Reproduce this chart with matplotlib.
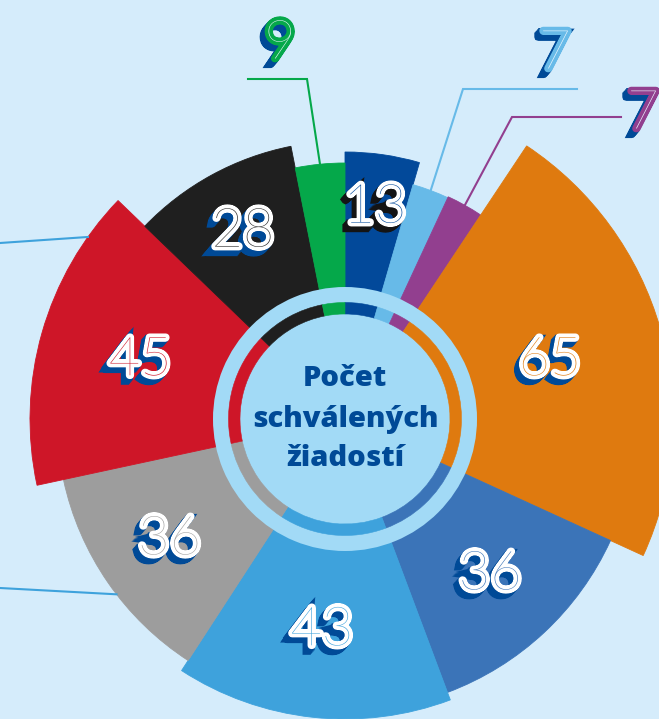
import numpy as np
import matplotlib.pyplot as plt
import matplotlib.patheffects as pe

# data
values = [13, 7, 7, 65, 36, 43, 36, 45, 28, 9]
labels = [str(v) for v in values]
outside = [False, True, True, False, False, False, False, False, False, True]
center_title = "Počet\nschválených\nžiadostí"

# styling
colors = ['#02499A', '#67BAE8', '#923F8F', '#DF7A0F', '#3B74B8',
          '#3EA2DC', '#9D9D9D', '#CE1628', '#1F1F1F', '#05A84A']
outer_r = [267, 244, 245, 328, 292, 300, 288, 315, 278, 256]
shadow_c = ['#141414'] + ['#004A97'] * 9
bg = '#D5ECFB'
ring = '#A2DAF6'
navy = '#004A97'

W, H = 659, 719
cx, cy = 345, 419          # pixel centre of the rose (from top)
R = 340

fig = plt.figure(figsize=(W / 100, H / 100), dpi=100)
fig.patch.set_facecolor(bg)

ax = fig.add_axes([(cx - R) / W, (H - cy - R) / H, 2 * R / W, 2 * R / H],
                  projection='polar')
ax.set_theta_zero_location('N')
ax.set_theta_direction(-1)
ax.set_ylim(0, R)
ax.axis('off')
ax.patch.set_alpha(0)

total = sum(values)
widths = np.array(values) / total * 2 * np.pi
starts = np.cumsum(widths) - widths
mids = starts + widths / 2

ax.bar(starts, outer_r, width=widths, bottom=0, align='edge',
       color=colors, edgecolor=colors, linewidth=0.6)
ax.bar(0, 132, width=2 * np.pi, bottom=0, align='edge', color=ring, linewidth=0)
ax.bar(starts, 11.5, width=widths, bottom=105, align='edge',
       color=colors, edgecolor=colors, linewidth=0.4)

ax.text(0, 0, center_title, ha='center', va='center', color=navy,
        fontsize=21, fontweight='heavy', family='Open Sans', linespacing=1.5)


def num_fx(band, sh):
    fx = [pe.PathPatchEffect(offset=(-d, -1.15 * d), facecolor=sh, edgecolor=sh, linewidth=5.5)
          for d in (0.8, 1.6, 2.4, 3.0, 3.6)]
    fx += [pe.Stroke(linewidth=5.5, foreground=band), pe.Normal()]
    return fx


for i, v in enumerate(values):
    if outside[i]:
        continue
    ax.text(mids[i], 213, labels[i], ha='center', va='center', color=colors[i],
            fontsize=39, fontweight=100, family='Lato',
            path_effects=num_fx('white', shadow_c[i]))

# overlay in pixel coordinates for leader lines and outside labels
ov = fig.add_axes([0, 0, 1, 1])
ov.set_xlim(0, W)
ov.set_ylim(H, 0)
ov.axis('off')
ov.patch.set_alpha(0)


def edge_pt(theta, r):
    return cx + r * np.sin(theta), cy - r * np.cos(theta)


# elbow, line end, label position for the small slices
leaders = {9: ((307, 79), (248, 79), (280, 44)),
           1: ((463, 89), (577, 89), (555, 54)),
           2: ((512, 117), (621, 117), (643, 114))}
for i, (elbow, end, lab) in leaders.items():
    x0, y0 = edge_pt(mids[i], outer_r[i])
    ov.plot([x0, elbow[0], end[0]], [y0, elbow[1], end[1]], color=colors[i], lw=1.5,
            solid_joinstyle='miter')
    ov.text(lab[0], lab[1], labels[i], ha='center', va='center', color='#EAF6FF',
            fontsize=39, fontweight=100, family='Lato', path_effects=num_fx(colors[i], navy))

# leader lines running off the left edge
for idx, ang, yend in ((7, 305.3, 243), (6, 232.5, 588)):
    x0, y0 = edge_pt(np.radians(ang), outer_r[idx])
    ov.plot([x0, 0], [y0, yend], color='#3EA2DC', lw=1.5)

fig.savefig('out.png', dpi=100, facecolor=bg)
